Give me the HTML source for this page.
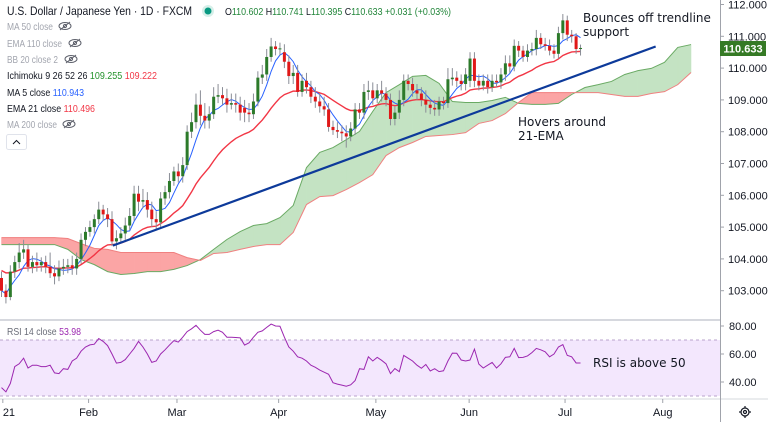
<!DOCTYPE html>
<html><head><meta charset="utf-8">
<style>
html,body{margin:0;padding:0;background:#fff;}
svg{display:block;font-family:"Liberation Sans",sans-serif;}
</style></head>
<body>
<svg id="c" width="768" height="422" viewBox="0 0 768 422" xmlns="http://www.w3.org/2000/svg">
  <rect x="0" y="0" width="768" height="422" fill="#ffffff"/>
  <g id="rsiBand"></g>
  <g id="cloud"></g>
  <g id="lines"></g>
  <g id="candles"></g>
  <g id="trend"></g>
  <g id="rsi"></g>
  <line x1="0" y1="320" x2="720" y2="320" stroke="#d6d8de" stroke-width="2"/>
  <line x1="0" y1="399" x2="768" y2="399" stroke="#d6d8de" stroke-width="1"/>
  <line x1="720.5" y1="0" x2="720.5" y2="422" stroke="#a0a3ab" stroke-width="1"/>
  <g id="yaxis"></g>
  <g id="rsiaxis"></g>
  <g id="xaxis"></g>
  <rect x="720" y="41" width="46" height="15" fill="#357a25"/>
  <text x="743" y="52.5" font-size="11" fill="#fff" font-weight="bold" text-anchor="middle">110.633</text>

  <text x="7" y="15" font-size="12" fill="#131722" textLength="185" lengthAdjust="spacingAndGlyphs">U.S. Dollar / Japanese Yen · 1D · FXCM</text>
  <circle cx="208" cy="11" r="6" fill="#d6efe9"/>
  <circle cx="208" cy="11" r="3.5" fill="#089981"/>
  <text x="225" y="15" font-size="10" fill="#22863a" textLength="226" lengthAdjust="spacingAndGlyphs"><tspan fill="#131722">O</tspan>110.602 <tspan fill="#131722">H</tspan>110.741 <tspan fill="#131722">L</tspan>110.395 <tspan fill="#131722">C</tspan>110.633 +0.031 (+0.03%)</text>
  <text x="7" y="30" font-size="10.5" fill="#a3a6af" textLength="46" lengthAdjust="spacingAndGlyphs">MA 50 close</text>
  <text x="7" y="47" font-size="10.5" fill="#a3a6af" textLength="55" lengthAdjust="spacingAndGlyphs">EMA 110 close</text>
  <text x="7" y="63" font-size="10.5" fill="#a3a6af" textLength="51" lengthAdjust="spacingAndGlyphs">BB 20 close 2</text>
  <text x="7" y="79" font-size="10.5" fill="#131722" textLength="150" lengthAdjust="spacingAndGlyphs">Ichimoku 9 26 52 26 <tspan fill="#22922a">109.255</tspan> <tspan fill="#f23645">109.222</tspan></text>
  <text x="7" y="96" font-size="10.5" fill="#131722" textLength="77" lengthAdjust="spacingAndGlyphs">MA 5 close <tspan fill="#2962ff">110.943</tspan></text>
  <text x="7" y="112" font-size="10.5" fill="#131722" textLength="88" lengthAdjust="spacingAndGlyphs">EMA 21 close <tspan fill="#f23645">110.496</tspan></text>
  <text x="7" y="128" font-size="10.5" fill="#a3a6af" textLength="50" lengthAdjust="spacingAndGlyphs">MA 200 close</text>
  <g fill="none" stroke="#5d606b" stroke-width="1">
    <g transform="translate(65,26)"><ellipse cx="0" cy="0" rx="6" ry="3.5"/><circle cx="0" cy="0" r="1.6"/><line x1="-5" y1="4" x2="5" y2="-4"/></g>
    <g transform="translate(75,43)"><ellipse cx="0" cy="0" rx="6" ry="3.5"/><circle cx="0" cy="0" r="1.6"/><line x1="-5" y1="4" x2="5" y2="-4"/></g>
    <g transform="translate(71,59)"><ellipse cx="0" cy="0" rx="6" ry="3.5"/><circle cx="0" cy="0" r="1.6"/><line x1="-5" y1="4" x2="5" y2="-4"/></g>
    <g transform="translate(69,124)"><ellipse cx="0" cy="0" rx="6" ry="3.5"/><circle cx="0" cy="0" r="1.6"/><line x1="-5" y1="4" x2="5" y2="-4"/></g>
  </g>
  <rect x="6.5" y="134.5" width="20" height="15" rx="2" fill="#fff" stroke="#e0e3eb"/>
  <path d="M13 144 L16.5 140.5 L20 144" fill="none" stroke="#131722" stroke-width="1"/>
  <text x="7" y="335" font-size="10.5" fill="#6a6d78" textLength="74" lengthAdjust="spacingAndGlyphs">RSI 14 close <tspan fill="#9c27b0">53.98</tspan></text>

  <text x="583" y="22" font-size="12" fill="#131722" font-family="DejaVu Sans, sans-serif">Bounces off trendline</text>
  <text x="583" y="36" font-size="12" fill="#131722" font-family="DejaVu Sans, sans-serif">support</text>
  <text x="518" y="126" font-size="12" fill="#131722" font-family="DejaVu Sans, sans-serif">Hovers around</text>
  <text x="518" y="140" font-size="12" fill="#131722" font-family="DejaVu Sans, sans-serif">21-EMA</text>
  <text x="593" y="367" font-size="12" fill="#131722" font-family="DejaVu Sans, sans-serif">RSI is above 50</text>

  <g transform="translate(745,412)" fill="none" stroke="#131722" stroke-width="1.2">
    <circle cx="0" cy="0" r="4"/><circle cx="0" cy="0" r="1.5"/>
    <line x1="0" y1="-6" x2="0" y2="-4"/><line x1="0" y1="4" x2="0" y2="6"/><line x1="-6" y1="0" x2="-4" y2="0"/><line x1="4" y1="0" x2="6" y2="0"/>
  </g>
</svg>
<script>
const opens=[103.4,103.0,102.8,103.6,103.9,104.2,104.3,103.75,103.9,103.8,
103.9,103.75,103.55,103.45,103.7,103.75,103.8,103.7,104.0,104.6,
104.85,105.0,105.25,105.55,105.4,105.25,104.55,104.65,104.8,105.05,
105.35,106.05,105.8,105.85,105.55,105.25,105.15,105.9,106.1,106.45,
106.75,106.6,106.95,108.0,108.3,108.85,108.5,108.35,108.55,109.1,
109.15,109.05,108.85,108.9,108.85,108.75,108.6,108.55,108.95,109.7,
109.8,110.35,110.68,110.6,110.5,110.2,109.75,109.85,109.25,109.6,
109.4,109.1,108.95,108.8,108.7,108.15,108.05,108.0,107.95,107.85,
108.1,108.7,108.6,109.25,109.3,109.05,109.3,109.2,109.0,108.4,
108.6,109.0,109.6,109.5,109.3,109.2,109.0,108.85,108.75,108.7,
108.95,108.9,109.65,109.7,109.6,109.5,109.6,110.3,109.6,109.45,
109.6,109.4,109.6,109.55,109.8,110.15,110.05,110.7,110.55,110.35,
110.55,110.6,110.95,110.75,110.7,110.55,110.45,111.1,111.5,111.05,
111.0,110.6];
const highs=[103.6,103.2,103.8,104.1,104.5,104.6,104.45,104.1,104.2,104.05,
104.1,104.2,103.8,103.95,104.0,104.0,104.1,104.2,104.8,105.0,
105.2,105.4,105.8,105.7,105.6,105.5,104.9,105.0,105.3,105.6,
106.3,106.3,106.2,106.1,105.8,105.5,106.1,106.3,106.7,106.9,
107.0,107.2,108.2,108.6,109.2,109.3,108.9,108.8,109.4,109.5,
109.4,109.35,109.2,109.2,109.1,109.0,108.9,109.2,109.9,110.1,
110.6,110.95,110.85,110.8,110.75,110.4,110.1,110.1,109.8,109.85,
109.6,109.4,109.2,109.1,108.9,108.35,108.3,108.2,108.2,108.3,
108.9,108.9,109.5,109.6,109.55,109.5,109.6,109.4,109.2,108.8,
109.3,109.8,109.8,109.7,109.5,109.4,109.3,109.0,109.0,109.1,
109.1,110.0,110.0,109.9,109.8,110.0,110.5,110.5,109.8,109.8,
109.8,109.8,109.8,110.0,110.4,110.4,110.9,110.85,110.7,110.75,
110.8,111.2,111.1,110.95,110.9,110.75,111.3,111.7,111.65,111.2,
111.1,110.74];
const lows=[102.8,102.6,102.7,103.4,103.7,104.0,103.6,103.55,103.6,103.6,
103.55,103.4,103.2,103.3,103.5,103.55,103.5,103.5,103.85,104.4,
104.7,104.8,105.1,105.2,105.0,104.4,104.3,104.5,104.6,104.9,
105.2,105.5,105.6,105.3,105.0,104.9,105.0,105.7,105.9,106.3,
106.4,106.4,106.8,107.8,108.1,108.2,108.1,108.1,108.4,108.9,
108.85,108.6,108.7,108.6,108.35,108.3,108.3,108.4,108.8,109.5,
109.6,110.2,110.4,110.4,110.0,109.5,109.5,109.1,109.1,109.2,
108.9,108.75,108.6,108.5,108.0,107.9,107.8,107.7,107.5,107.7,
107.9,108.4,108.4,109.0,108.85,108.9,108.95,108.8,108.2,108.2,
108.4,108.8,109.3,109.1,109.0,108.8,108.6,108.55,108.5,108.5,
108.7,108.75,109.45,109.4,109.3,109.3,109.4,109.4,109.3,109.3,
109.2,109.25,109.4,109.35,109.6,109.85,109.9,110.35,110.2,110.2,
110.4,110.4,110.6,110.55,110.4,110.3,110.3,110.9,110.85,110.8,
110.45,110.395];
const closes=[103.0,102.8,103.6,103.9,104.2,104.3,103.75,103.9,103.8,103.9,
103.75,103.55,103.45,103.7,103.75,103.8,103.7,104.0,104.6,104.85,
105.0,105.25,105.55,105.4,105.25,104.55,104.65,104.8,105.05,105.35,
106.05,105.8,105.85,105.55,105.25,105.15,105.9,106.1,106.45,106.75,
106.6,106.95,108.0,108.3,108.85,108.5,108.35,108.55,109.1,109.15,
109.05,108.85,108.9,108.85,108.6,108.6,108.55,108.95,109.7,109.8,
110.35,110.68,110.6,110.62,110.2,109.75,109.85,109.25,109.6,109.4,
109.1,108.95,108.8,108.7,108.15,108.05,108.0,107.95,107.85,108.1,
108.7,108.6,109.25,109.3,109.05,109.3,109.2,109.0,108.4,108.6,
109.0,109.6,109.5,109.3,109.2,109.0,108.85,108.75,108.7,108.95,
108.9,109.65,109.7,109.6,109.5,109.8,110.3,109.6,109.45,109.6,
109.4,109.6,109.55,109.8,110.15,110.05,110.7,110.55,110.35,110.55,
110.6,110.95,110.75,110.7,110.55,110.45,111.1,111.5,111.05,111.0,
110.6,110.633];
const cloudStep=3;
const spanA=[104.45,104.45,104.45,104.45,104.45,104.30,103.98,103.82,103.60,103.51,
103.54,103.60,103.60,103.67,103.79,103.98,104.30,104.61,104.86,105.05,
105.11,105.30,105.68,106.87,107.35,107.50,107.75,108.01,108.64,109.23,
109.48,109.74,109.77,109.52,108.95,108.92,108.92,108.98,109.08,108.89,
108.86,108.86,108.89,109.17,109.39,109.48,109.58,109.80,109.92,109.99,
110.18,110.65,110.74];
const spanB=[104.67,104.67,104.67,104.67,104.67,104.64,104.48,104.33,104.30,104.20,
104.20,104.20,104.20,104.20,104.04,103.95,104.17,104.20,104.30,104.39,
104.45,104.45,104.83,105.71,105.96,105.99,106.18,106.40,106.65,107.25,
107.50,107.66,107.85,107.88,107.91,107.97,108.26,108.35,108.57,108.92,
109.23,109.23,109.23,109.23,109.23,109.23,109.17,109.11,109.11,109.20,
109.26,109.48,109.86];
const rsiValues=[36,33,39,51,53,57,50,52,52,51,
51,52,46.5,46,49.5,49,55,57,62,65,
66.5,67,71,69,66,60,53.5,54,56,60,
64,69,65,60,54,55,60,63,66.4,69.5,
68.5,72,76,78,80.5,77,74,74,76,77,
75.5,72,72,71.8,71.5,66.4,68,72,75.5,76.5,
79,81.4,80,79.8,72,65,62,58,57,55,
52,50.5,48.5,47,45.5,39.5,38.5,37.8,37,38,
41,49.5,49,58,55,57.6,55.5,53,46,49.6,
47.4,59,57,55,52,49.8,52.5,47.9,49.5,47.4,
48,55,60.6,60.5,55.7,55,55.7,63.5,52.8,50,
52,54,50,53,57.6,58,64,57.4,57.6,58.6,
61,64,63,61.6,58,60,65,66.7,59,58,
53.6,53.6];
const trendIdx=[25.2,148];
const trendPrice=[104.42,110.68];
const priceTicks=[112,111,110,109,108,107,106,105,104,103];
const rsiTicks=[80,60,40];
const monthLabels=["21","Feb","Mar","Apr","May","Jun","Jul","Aug"];
const monthIdx=[0.3,19.7,39.7,62.7,84.7,105.8,127.5,149.6];
const ema21Seed=103.7;

const NS="http://www.w3.org/2000/svg";
function xOf(i){return 1.5+i*4.42;}
function yOf(p){return 4.5+(112-p)*31.8;}
function yR(v){return 326+(80-v)*1.4;}
function mk(tag,attrs,parent){const e=document.createElementNS(NS,tag);for(const k in attrs)e.setAttribute(k,attrs[k]);parent.appendChild(e);return e;}
const $=id=>document.getElementById(id);

const band=$('rsiBand');
let r=mk('rect',{x:0,y:yR(70),width:720,height:yR(30)-yR(70),fill:'#f3e7fd'},band);


[70,30].forEach(v=>{const l=mk('line',{x1:0,x2:720,y1:yR(v),y2:yR(v),stroke:'#b8a3cc','stroke-dasharray':'3,3','stroke-width':1},band);

});

const cg=$('cloud');
for(let k=0;k<spanA.length-1;k++){
  const x1=xOf(k*cloudStep),x2=xOf((k+1)*cloudStep);
  const green=(spanA[k]+spanA[k+1])>(spanB[k]+spanB[k+1]);
  const p=mk('polygon',{points:`${x1},${yOf(spanA[k])} ${x2},${yOf(spanA[k+1])} ${x2},${yOf(spanB[k+1])} ${x1},${yOf(spanB[k])}`,fill:green?'#c4e3c3':'#fba5a5',stroke:green?'#c4e3c3':'#fba5a5','stroke-width':0.5},cg);
  
  
}
const pa=mk('polyline',{points:spanA.map((v,k)=>xOf(k*cloudStep)+','+yOf(v)).join(' '),fill:'none',stroke:'#6aaa64','stroke-width':1},cg);


const pb=mk('polyline',{points:spanB.map((v,k)=>xOf(k*cloudStep)+','+yOf(v)).join(' '),fill:'none',stroke:'#f08080','stroke-width':1},cg);



const lg=$('lines');
let ema=[],e=ema21Seed,kk=2/22;
closes.forEach(c=>{e=c*kk+e*(1-kk);ema.push(e);});
let ma=closes.map((c,i)=>{const s=closes.slice(Math.max(0,i-4),i+1);return s.reduce((a,b)=>a+b,0)/s.length;});
const le=mk('polyline',{points:ema.map((v,i)=>xOf(i)+','+yOf(v)).join(' '),fill:'none',stroke:'#f23645','stroke-width':1.4},lg);


const lm=mk('polyline',{points:ma.map((v,i)=>xOf(i)+','+yOf(v)).join(' '),fill:'none',stroke:'#2962ff','stroke-width':1},lg);



const cd=$('candles');
closes.forEach((c,i)=>{
  const o=opens[i],x=xOf(i),up=c>=o;
  const g=mk('g',{},cd);
  
  
  mk('line',{x1:x,x2:x,y1:yOf(highs[i]),y2:yOf(lows[i]),stroke:'#8a8d96','stroke-width':1},g);
  const top=yOf(Math.max(o,c)),bot=yOf(Math.min(o,c));
  mk('rect',{x:x-1.5,y:top,width:3,height:Math.max(1,bot-top),fill:up?'#2c7a2a':'#e01818'},g);
});

const tl=mk('line',{x1:xOf(trendIdx[0]),y1:yOf(trendPrice[0]),x2:xOf(trendIdx[1]),y2:yOf(trendPrice[1]),stroke:'#0d3a9a','stroke-width':2.2},$('trend'));



const rl=mk('polyline',{points:rsiValues.map((v,i)=>xOf(i)+','+yR(v)).join(' '),fill:'none',stroke:'#9c27b0','stroke-width':1},$('rsi'));



const ya=$('yaxis');
priceTicks.forEach(p=>{
  const l=mk('line',{x1:720,x2:724,y1:yOf(p),y2:yOf(p),stroke:'#a0a3ab'},ya);
  
  
  const t=mk('text',{x:728,y:yOf(p)+4,'font-size':11,fill:'#131722'},ya);
  t.textContent=p.toFixed(3);
  
  
});
const ra=$('rsiaxis');
rsiTicks.forEach(v=>{
  const l=mk('line',{x1:720,x2:724,y1:yR(v),y2:yR(v),stroke:'#a0a3ab'},ra);
  
  
  const t=mk('text',{x:729,y:yR(v)+4,'font-size':11,fill:'#131722'},ra);
  t.textContent=v.toFixed(2);
  
  
});
const xa=$('xaxis');
monthLabels.forEach((m,j)=>{
  const x=xOf(monthIdx[j]);
  const l=mk('line',{x1:x,x2:x,y1:399,y2:403,stroke:'#a0a3ab'},xa);
  
  
  const t=mk('text',{x:x,y:416,'font-size':11,fill:'#131722','text-anchor':j===0?'start':'middle'},xa);
  t.textContent=m;
  
  
});
</script>
</body></html>
